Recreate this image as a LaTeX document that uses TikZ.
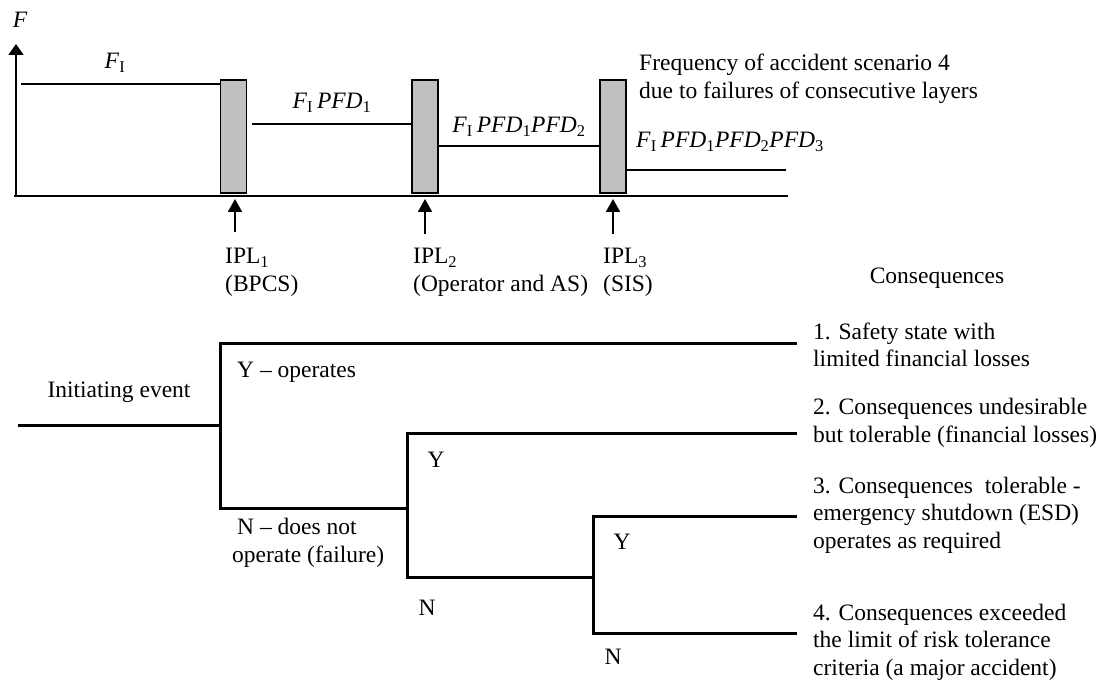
\documentclass[tikz,border=0pt]{standalone}
\usepackage{fontspec}
\setmainfont{Liberation Serif}
\usetikzlibrary{arrows.meta}
\newcommand\mysub[1]{\textsubscript{#1}}
\newcommand\FI{\textit{F}\mysub{I}}
\newcommand\PFD[1]{\textit{PFD}\mysub{#1}}
\begin{document}
\begin{tikzpicture}[x=1pt,y=-1pt,
  txt/.style={inner sep=0pt,font=\fontsize{23.5}{27.5}\selectfont,align=left},
  axisline/.style={line width=2pt},
  levelline/.style={line width=2pt},
  iplbox/.style={draw,line width=1.2pt,fill={rgb,255:red,192;green,192;blue,192},minimum width=26pt,minimum height=113pt,inner sep=0pt},
  uparrow/.style={line width=1.8pt,-{Triangle[width=14pt,length=13pt]}},
  treeline/.style={line width=3pt,line cap=rect}]
\useasboundingbox (0,0) rectangle (1115,684);
% ---------- top diagram ----------
\coordinate (origin) at (16,196);
\coordinate (ytop) at (16,44);
\coordinate (xend) at (788,196);
\coordinate (xstart) at (14,196);
\draw[axisline,-{Triangle[width=15pt,length=11pt]}] (origin) -- (ytop);
\draw[axisline] (xstart) -- (xend);
\node[txt,font=\fontsize{23.5}{27.5}\selectfont\itshape] (Flab) at (20,20) {F};
\node[iplbox] (b1) at (233.5,136.5) {};
\node[iplbox] (b2) at (425,136.5) {};
\node[iplbox] (b3) at (613,136.5) {};
\coordinate (l0s) at (21,84);
\coordinate (l1s) at (252,124);
\coordinate (l3e) at (786,170);
\draw[levelline] (l0s) -- (l0s -| b1.west);
\draw[levelline] (l1s) -- (l1s -| b2.west);
\draw[levelline] (b2.east |- 0,146) -- (b3.west |- 0,146);
\draw[levelline] (b3.east |- l3e) -- (l3e);
\node[txt] (fi) at (115,63) {\FI};
\node[txt] (f1) at (332,103) {\FI\,\PFD{1}};
\node[txt] (f2) at (519,127) {\FI\,\PFD{1}\PFD{2}};
\node[txt,anchor=west] (f3) at (636,142) {\FI\,\PFD{1}\PFD{2}\PFD{3}};
\node[txt,anchor=west] (freq) at (639,79) {Frequency of accident scenario 4\\due to failures of consecutive layers};
% IPL arrows and labels
\node[txt,anchor=north west] (ipl1) at (225,248) {IPL\mysub{1}\\(BPCS)};
\node[txt,anchor=north west] (ipl2) at (413,248) {IPL\mysub{2}\\(Operator and AS)};
\node[txt,anchor=north west] (ipl3) at (603,248) {IPL\mysub{3}\\(SIS)};
\coordinate (a1s) at (235,232); \coordinate (a1e) at (235,199);
\coordinate (a2s) at (425,234); \coordinate (a2e) at (425,199);
\coordinate (a3s) at (613,234); \coordinate (a3e) at (613,199);
\draw[uparrow] (a1s) -- (a1e);
\draw[uparrow] (a2s) -- (a2e);
\draw[uparrow] (a3s) -- (a3e);
% ---------- event tree ----------
\node[txt] (cons) at (937,278) {Consequences};
\node[txt] (init) at (119,392) {Initiating event};
\coordinate (ie) at (19,425);
\coordinate (n1) at (220,425);
\coordinate (n1t) at (220,343);
\coordinate (n1b) at (220,508);
\coordinate (n2) at (407,508);
\coordinate (n2t) at (407,433);
\coordinate (n2b) at (407,577);
\coordinate (n3) at (593,577);
\coordinate (n3t) at (593,516);
\coordinate (n3b) at (593,633);
\coordinate (e1) at (795,343);
\coordinate (e2) at (795,433);
\coordinate (e3) at (795,516);
\coordinate (e4) at (795,633);
\draw[treeline] (ie) -- (n1);
\draw[treeline] (e1) -- (n1t) -- (n1b) -- (n2);
\draw[treeline] (e2) -- (n2t) -- (n2b) -- (n3);
\draw[treeline] (e3) -- (n3t) -- (n3b) -- (e4);
\node[txt,anchor=west] (yop) at (237,372) {Y -- operates};
\node[txt,anchor=north west] (nop) at (232,518) {\hspace*{5pt}N -- does not\\operate (failure)};
\node[txt] (y2) at (436,460) {Y};
\node[txt] (nn2) at (427,608) {N};
\node[txt] (y3) at (622,542) {Y};
\node[txt] (nn3) at (613,657) {N};
\node[txt,anchor=west] (c1) at (813,345) {1. Safety state with\\limited financial losses};
\node[txt,anchor=west] (c2) at (813,423) {2. Consequences undesirable\\but tolerable (financial losses)};
\node[txt,anchor=west] (c3) at (813,515) {3. Consequences\ \ tolerable -\\emergency shutdown (ESD)\\operates as required};
\node[txt,anchor=west] (c4) at (813,642) {4. Consequences exceeded\\the limit of risk tolerance\\criteria (a major accident)};
\end{tikzpicture}
\end{document}
